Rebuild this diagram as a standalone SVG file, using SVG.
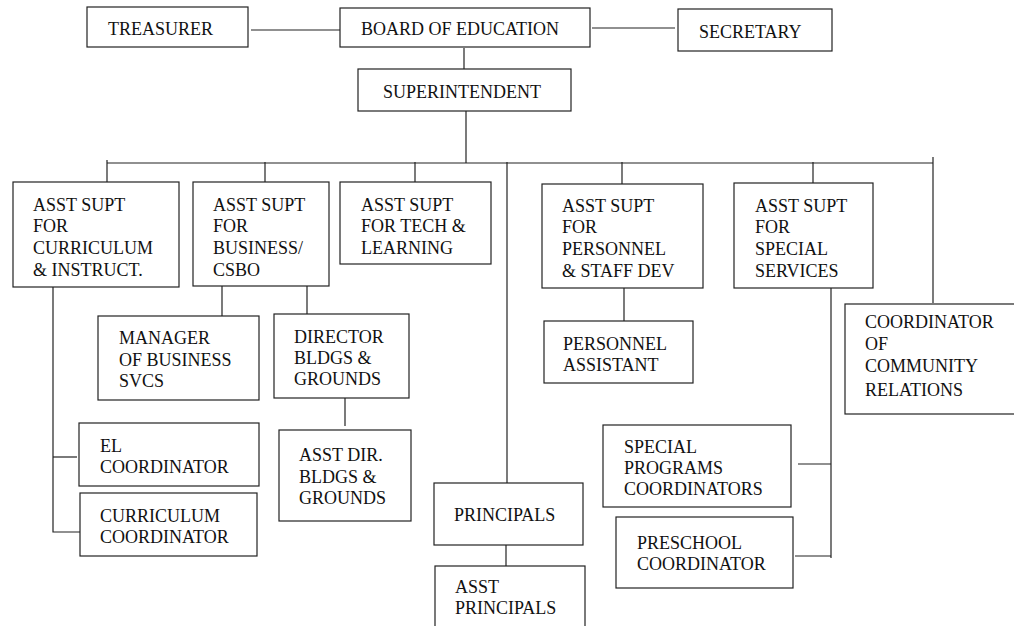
<svg xmlns="http://www.w3.org/2000/svg" width="1014" height="626" viewBox="0 0 1014 626">
<style>
.box{fill:#fff;stroke:#222;stroke-width:1.2}
.c{fill:none;stroke:#222;stroke-width:1.2}
</style>
<rect width="1014" height="626" fill="#fff"/>
<g id="connectors">
<path class="c" d="M251 30H341"/>
<path class="c" d="M592 28H675"/>
<path class="c" d="M464 48V69"/>
<path class="c" d="M466 111V163"/>
<path class="c" d="M107 163H933"/>
<path class="c" d="M107 160V182"/>
<path class="c" d="M265 162V182"/>
<path class="c" d="M415 162V182"/>
<path class="c" d="M507 162V483"/>
<path class="c" d="M622 162V184"/>
<path class="c" d="M813 162V183"/>
<path class="c" d="M933 157V303"/>
<path class="c" d="M53 287V532H80"/>
<path class="c" d="M53 457H77"/>
<path class="c" d="M222 286V316"/>
<path class="c" d="M307 286V314"/>
<path class="c" d="M345 398V426"/>
<path class="c" d="M624 288V321"/>
<path class="c" d="M831 288V558"/>
<path class="c" d="M798 464H831"/>
<path class="c" d="M795 556H831"/>
<path class="c" d="M506 545V566"/>
</g>
<g font-family="Liberation Serif, Times New Roman, DejaVu Serif, serif" font-size="18" fill="#111">
<g id="treasurer"><rect class="box" x="87" y="7" width="161" height="40"/><text x="108" y="35">TREASURER</text></g>
<g id="board"><rect class="box" x="340" y="8" width="250" height="39"/><text x="361" y="35">BOARD OF EDUCATION</text></g>
<g id="secretary"><rect class="box" x="678" y="9" width="154" height="42"/><text x="699" y="38">SECRETARY</text></g>
<g id="superintendent"><rect class="box" x="358" y="69" width="213" height="42"/><text x="383" y="98">SUPERINTENDENT</text></g>
<g id="asst-curriculum"><rect class="box" x="13" y="182" width="166" height="105"/><text x="33" y="211">ASST SUPT</text><text x="33" y="232">FOR</text><text x="33" y="254">CURRICULUM</text><text x="33" y="276">&amp; INSTRUCT.</text></g>
<g id="asst-business"><rect class="box" x="193" y="182" width="136" height="104"/><text x="213" y="211">ASST SUPT</text><text x="213" y="232">FOR</text><text x="213" y="254">BUSINESS/</text><text x="213" y="276">CSBO</text></g>
<g id="asst-tech"><rect class="box" x="340" y="182" width="151" height="82"/><text x="361" y="211">ASST SUPT</text><text x="361" y="232">FOR TECH &amp;</text><text x="361" y="254">LEARNING</text></g>
<g id="asst-personnel"><rect class="box" x="542" y="184" width="161" height="104"/><text x="562" y="212">ASST SUPT</text><text x="562" y="233">FOR</text><text x="562" y="255">PERSONNEL</text><text x="562" y="277">&amp; STAFF DEV</text></g>
<g id="asst-special"><rect class="box" x="734" y="183" width="139" height="105"/><text x="755" y="212">ASST SUPT</text><text x="755" y="233">FOR</text><text x="755" y="255">SPECIAL</text><text x="755" y="277">SERVICES</text></g>
<g id="manager-business"><rect class="box" x="98" y="316" width="161" height="84"/><text x="119" y="344">MANAGER</text><text x="119" y="366">OF BUSINESS</text><text x="119" y="387">SVCS</text></g>
<g id="director-bldgs"><rect class="box" x="274" y="314" width="135" height="84"/><text x="294" y="343">DIRECTOR</text><text x="294" y="364">BLDGS &amp;</text><text x="294" y="385">GROUNDS</text></g>
<g id="personnel-assistant"><rect class="box" x="544" y="321" width="149" height="62"/><text x="563" y="350">PERSONNEL</text><text x="563" y="371">ASSISTANT</text></g>
<g id="coord-community"><rect class="box" x="845" y="304" width="180" height="110"/><text x="865" y="328">COORDINATOR</text><text x="865" y="350">OF</text><text x="865" y="372">COMMUNITY</text><text x="865" y="396">RELATIONS</text></g>
<g id="el-coordinator"><rect class="box" x="79" y="423" width="180" height="63"/><text x="100" y="452">EL</text><text x="100" y="473">COORDINATOR</text></g>
<g id="curriculum-coordinator"><rect class="box" x="80" y="493" width="177" height="63"/><text x="100" y="522">CURRICULUM</text><text x="100" y="543">COORDINATOR</text></g>
<g id="asst-dir-bldgs"><rect class="box" x="279" y="430" width="132" height="91"/><text x="299" y="461">ASST DIR.</text><text x="299" y="483">BLDGS &amp;</text><text x="299" y="504">GROUNDS</text></g>
<g id="principals"><rect class="box" x="434" y="483" width="149" height="62"/><text x="454" y="521">PRINCIPALS</text></g>
<g id="asst-principals"><rect class="box" x="435" y="566" width="150" height="80"/><text x="455" y="593">ASST</text><text x="455" y="614">PRINCIPALS</text></g>
<g id="special-programs"><rect class="box" x="603" y="425" width="188" height="82"/><text x="624" y="453">SPECIAL</text><text x="624" y="474">PROGRAMS</text><text x="624" y="495">COORDINATORS</text></g>
<g id="preschool"><rect class="box" x="616" y="517" width="177" height="71"/><text x="637" y="549">PRESCHOOL</text><text x="637" y="570">COORDINATOR</text></g>
</g>
</svg>
